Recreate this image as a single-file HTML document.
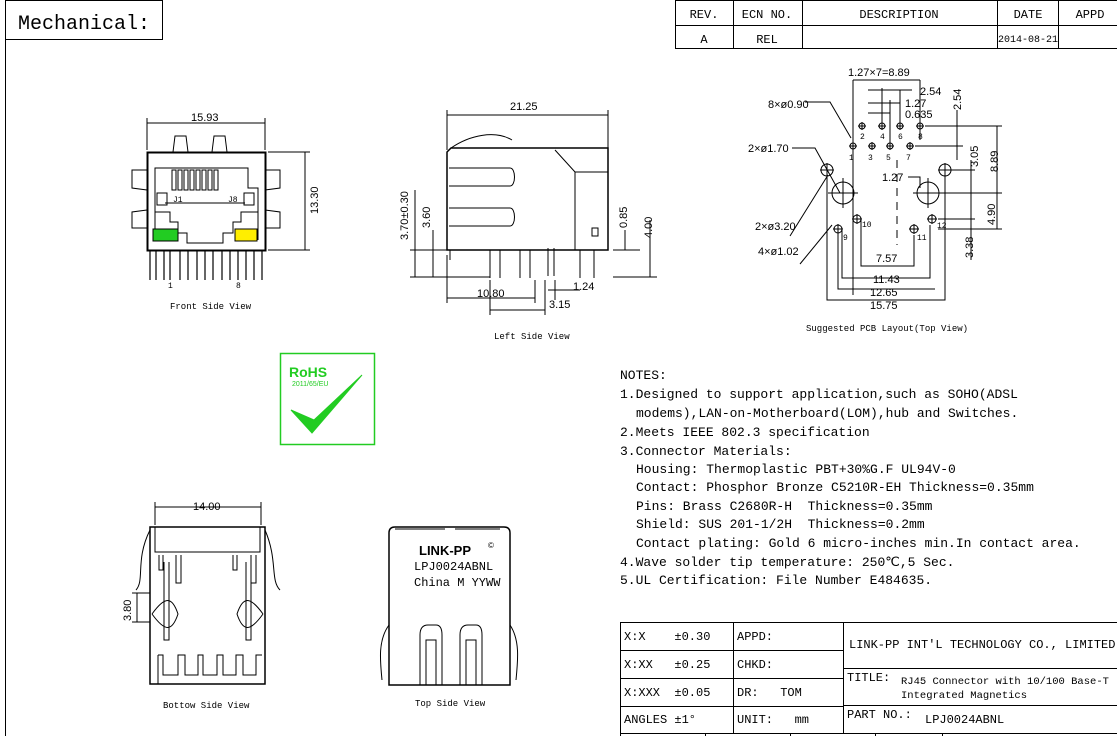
<!DOCTYPE html>
<html><head><meta charset="utf-8"><style>
html,body{margin:0;padding:0;background:#fff}
svg{display:block}
text{font-family:"Liberation Mono",monospace;fill:#000;white-space:pre}
.s{font-family:"Liberation Sans",sans-serif}
</style></head><body>
<svg width="1117" height="736" viewBox="0 0 1117 736" xmlns="http://www.w3.org/2000/svg" xml:space="preserve">
<g fill="none" stroke="#000" stroke-width="1">
<line x1="5.5" y1="0" x2="5.5" y2="736"/>
<rect x="5.5" y="0.5" width="157" height="39"/>
<rect x="675.5" y="0.5" width="445" height="48"/>
<line x1="675" y1="25.5" x2="1117" y2="25.5"/>
<line x1="733.5" y1="0" x2="733.5" y2="48"/>
<line x1="802.5" y1="0" x2="802.5" y2="48"/>
<line x1="997.5" y1="0" x2="997.5" y2="48"/>
<line x1="1058.5" y1="0" x2="1058.5" y2="48"/>

<rect x="147.5" y="152.5" width="118" height="98" stroke-width="2"/>
<path d="M173 152 L175 136 L186 136 L188 152 M212 152 L214 136 L225 136 L227 152"/>
<path d="M147 170 H132 V188 L147 190 M147 210 L132 212 V228 H147 M265 170 H280 V188 L265 190 M265 210 L280 212 V228 H265"/>
<path d="M155 240 V168 H248 V188 H258 V240"/>
<rect x="172" y="170" width="4" height="20"/><rect x="178" y="170" width="4" height="20"/><rect x="184" y="170" width="4" height="20"/><rect x="190" y="170" width="4" height="20"/><rect x="196" y="170" width="4" height="20"/><rect x="202" y="170" width="4" height="20"/><rect x="208" y="170" width="4" height="20"/><rect x="214" y="170" width="4" height="20"/>
<rect x="157" y="193" width="10" height="12"/><rect x="244" y="193" width="10" height="12"/>
<line x1="165" y1="203" x2="245" y2="203"/>
<path d="M155 212 H170 V222 H178 V233 H187 V243 H223 V233 H233 V222 H241 V212 H258"/>
<rect x="153" y="229" width="25" height="12" fill="#22cc22"/>
<rect x="235" y="229" width="22" height="12" fill="#ffee00"/>
<g stroke-width="1.2">
<path d="M150 250V280M156 250V280M164 250V280M170 250V280M180 250V280M188 250V280M197 250V280M205 250V280M213 250V280M222 250V280M230 250V280M238 250V280M246 250V280M254 250V280M262 250V280"/>
</g>
<path d="M147 118V150M265 118V150M147 123H265"/>
<path d="M268 152H310M268 250H310M305 152V250"/>

<path d="M447 250 V152 L451 148 H608 V250 Z" stroke-width="1.5"/>
<path d="M451 148 C470 135 495 130 512 140"/>
<path d="M555 150 L575 172 H608 M575 172 V250"/>
<path d="M449 168 H510 C516 168 516 186 510 186 H449"/>
<path d="M449 208 H510 C516 208 516 226 510 226 H449"/>
<rect x="592" y="228" width="6" height="8"/>
<path d="M450 260V250M490 250V278M500 250V278M520 250V278M530 250V278M548 248V276M554 248V276M580 250V278M594 250V278"/>
<path d="M570 250 H608 V244"/>
<path d="M447 110V150M608 110V150M447 115H608"/>
<path d="M410 250H447M410 277H490M415 190V277M433 230V277"/>
<path d="M613 250H640M613 277H657M625 230V250M650 220V277"/>
<path d="M447 255V303M447 298H535M535 280V303M490 280V315M490 310H545M545 280V315M548 290H580M555 280V300"/>

<g stroke-width="1">
<circle cx="853" cy="146" r="3"/><circle cx="872" cy="146" r="3"/><circle cx="890" cy="146" r="3"/><circle cx="910" cy="146" r="3"/>
<circle cx="862" cy="126" r="3"/><circle cx="882" cy="126" r="3"/><circle cx="900" cy="126" r="3"/><circle cx="920" cy="126" r="3"/>
<circle cx="843" cy="193" r="11"/><circle cx="928" cy="193" r="11"/>
<circle cx="827" cy="170" r="6"/><circle cx="945" cy="170" r="6"/>
<circle cx="838" cy="229" r="4"/><circle cx="857" cy="219" r="4"/><circle cx="914" cy="229" r="4"/><circle cx="932" cy="219" r="4"/>
<path d="M849 146h8M853 142v8M868 146h8M872 142v8M886 146h8M890 142v8M906 146h8M910 142v8M858 126h8M862 122v8M878 126h8M882 122v8M896 126h8M900 122v8M916 126h8M920 122v8"/>
<path d="M820 170h14M827 163v14M938 170h14M945 163v14M828 193h30M843 178v30M913 193h30M928 178v30"/>
<path d="M833 229h10M838 224v10M852 219h10M857 214v10M909 229h10M914 224v10M927 219h10M932 214v10"/>
<path d="M853 80V295M920 80V140M853 80H920"/>
<path d="M868 90H912M868 103H900M868 113H890M882 88V130M890 100V150M900 90V130"/>
<path d="M925 126H1002M915 146H963M957 110V160M950 170H975M934 193H1002M938 219H975M938 229H1002M971 160V260M997 126V229"/>
<path d="M897 160V245" stroke-dasharray="8 6"/>
<path d="M861 220V266H914V235M842 230V278H930V225M838 232V289H935M827 175V300H945V175"/>
<path d="M805 102H830L851 138M792 148H815L840 193M800 264L832 225M790 236L828 175"/>
<path d="M908 177H920V188"/>
</g>

<rect x="280.5" y="353.5" width="94" height="91" stroke="#22cc22" stroke-width="1.5"/>
<path d="M291 410 L312 433 L362 375 L314 420 Z" fill="#22cc22" stroke="#22cc22"/>

<path d="M150 527 H265 V684 H150 Z" stroke-width="1.5"/>
<path d="M155 527 V552 H260 V527"/>
<path d="M150 530 C135 560 145 580 136 590 M265 530 C278 560 270 580 280 590"/>
<path d="M159 555V570H163V555M176 555V583H181V555M233 555V570H237V555M251 555V583H256V555"/>
<path d="M164 562V640H169V562M246 562V640H251V562"/>
<path d="M152 614 C165 596 172 596 178 614 C172 632 165 632 152 614 M263 614 C250 596 243 596 237 614 C243 632 250 632 263 614"/>
<path d="M158 655 V684 M158 655 H163 V675 H178 V655 H185 V675 H198 V655 H203 V675 H217 V655 H223 V675 H236 V655 H243 V675 H256 V655 H262"/>
<path d="M155 502V525M261 502V525M155 507H261"/>
<path d="M132 593H150M132 622H150M137 593V622"/>

<path d="M389 685 V533 Q389 527 395 527 H504 Q510 527 510 533 V685 Z" stroke-width="1.5"/>
<path d="M395 529H445M455 529H500"/>
<path d="M420 685V635Q420 625 428 625H436Q442 625 442 635V685M426 685V640H436V685"/>
<path d="M460 685V635Q460 625 468 625H476Q482 625 482 635V685M466 685V640H476V685"/>
<path d="M389 625C378 640 380 660 382 680M510 625C520 640 518 660 516 680"/>

<rect x="620.5" y="622.5" width="500" height="120"/>
<path d="M620 650.5H843M620 678.5H843M620 706.5H843M620 733.5H1117M843 668.5H1117M843 705.5H1117M733.5 622V733M843.5 622V733"/>
<path d="M705.5 733V736M790.5 733V736M875.5 733V736M942.5 733V736"/>
</g>

<text x="18" y="29" font-size="20">Mechanical:</text>
<g font-size="12" text-anchor="middle">
<text x="704" y="18">REV.</text><text x="767" y="18">ECN NO.</text><text x="899" y="18">DESCRIPTION</text><text x="1028" y="18">DATE</text><text x="1090" y="18">APPD</text>
<text x="704" y="43">A</text><text x="767" y="43">REL</text><text x="1028" y="42" font-size="10">2014-08-21</text>
</g>
<g class="s" font-size="11">
<text class="s" x="191" y="121">15.93</text>
<text class="s" x="510" y="110">21.25</text>
<text class="s" transform="translate(318,214) rotate(-90)">13.30</text>
<text class="s" transform="translate(408,240) rotate(-90)">3.70±0.30</text>
<text class="s" transform="translate(430,228) rotate(-90)">3.60</text>
<text class="s" transform="translate(627,228) rotate(-90)">0.85</text>
<text class="s" transform="translate(652,238) rotate(-90)">4.00</text>
<text class="s" x="477" y="297">10.80</text>
<text class="s" x="549" y="308">3.15</text>
<text class="s" x="573" y="290">1.24</text>
<text class="s" x="848" y="76">1.27×7=8.89</text>
<text class="s" x="920" y="95">2.54</text>
<text class="s" x="905" y="107">1.27</text>
<text class="s" x="905" y="118">0.635</text>
<text class="s" x="768" y="108">8×ø0.90</text>
<text class="s" x="748" y="152">2×ø1.70</text>
<text class="s" x="882" y="181">1.27</text>
<text class="s" x="755" y="230">2×ø3.20</text>
<text class="s" x="758" y="255">4×ø1.02</text>
<text class="s" x="876" y="262">7.57</text>
<text class="s" x="873" y="283">11.43</text>
<text class="s" x="870" y="296">12.65</text>
<text class="s" x="870" y="309">15.75</text>
<text class="s" transform="translate(961,110) rotate(-90)">2.54</text>
<text class="s" transform="translate(978,167) rotate(-90)">3.05</text>
<text class="s" transform="translate(998,172) rotate(-90)">8.89</text>
<text class="s" transform="translate(995,225) rotate(-90)">4.90</text>
<text class="s" transform="translate(973,258) rotate(-90)">3.38</text>
<text class="s" x="193" y="510">14.00</text>
<text class="s" transform="translate(131,621) rotate(-90)">3.80</text>
</g>
<g font-size="8" fill="#555">
<text x="849" y="160">1</text><text x="868" y="160">3</text><text x="886" y="160">5</text><text x="906" y="160">7</text>
<text x="860" y="139">2</text><text x="880" y="139">4</text><text x="898" y="139">6</text><text x="918" y="139">8</text>
<text x="843" y="240">9</text><text x="862" y="227">10</text><text x="917" y="240">11</text><text x="937" y="228">12</text>
<text x="173" y="202">J1</text><text x="228" y="202">J8</text>
<text x="168" y="288">1</text><text x="236" y="288">8</text>
</g>
<g font-size="9">
<text x="170" y="309">Front Side View</text>
<text x="494" y="339">Left Side View</text>
<text x="806" y="331">Suggested PCB Layout(Top View)</text>
<text x="163" y="708">Bottow Side View</text>
<text x="415" y="706">Top Side View</text>
</g>
<text class="s" x="289" y="377" font-size="14" font-weight="bold" style="fill:#22cc22">RoHS</text>
<text class="s" x="292" y="386" font-size="7" style="fill:#22cc22">2011/65/EU</text>
<text class="s" x="419" y="555" font-size="13" font-weight="bold">LINK-PP</text>
<text class="s" x="488" y="548" font-size="8">©</text>
<text x="414" y="570" font-size="12">LPJ0024ABNL</text>
<text x="414" y="586" font-size="12">China M YYWW</text>
<g font-size="13">
<text x="620" y="379">NOTES:</text>
<text x="620" y="398">1.Designed to support application,such as SOHO(ADSL</text>
<text x="636" y="417">modems),LAN-on-Motherboard(LOM),hub and Switches.</text>
<text x="620" y="436">2.Meets IEEE 802.3 specification</text>
<text x="620" y="455">3.Connector Materials:</text>
<text x="636" y="473">Housing: Thermoplastic PBT+30%G.F UL94V-0</text>
<text x="636" y="491">Contact: Phosphor Bronze C5210R-EH Thickness=0.35mm</text>
<text x="636" y="510">Pins: Brass C2680R-H  Thickness=0.35mm</text>
<text x="636" y="528">Shield: SUS 201-1/2H  Thickness=0.2mm</text>
<text x="636" y="547">Contact plating: Gold 6 micro-inches min.In contact area.</text>
<text x="620" y="566">4.Wave solder tip temperature: 250℃,5 Sec.</text>
<text x="620" y="584">5.UL Certification: File Number E484635.</text>
</g>
<g font-size="12">
<text x="624" y="640">X:X    ±0.30</text>
<text x="624" y="668">X:XX   ±0.25</text>
<text x="624" y="696">X:XXX  ±0.05</text>
<text x="624" y="723">ANGLES ±1°</text>
<text x="737" y="640">APPD:</text>
<text x="737" y="668">CHKD:</text>
<text x="737" y="696">DR:   TOM</text>
<text x="737" y="723">UNIT:   mm</text>
<text x="849" y="648">LINK-PP INT'L TECHNOLOGY CO., LIMITED</text>
<text x="847" y="681">TITLE:</text>
<text x="901" y="684" font-size="10.5">RJ45 Connector with 10/100 Base-T</text>
<text x="901" y="698" font-size="10.5">Integrated Magnetics</text>
<text x="847" y="718">PART NO.:</text>
<text x="925" y="723">LPJ0024ABNL</text>
</g>
</svg>
</body></html>
